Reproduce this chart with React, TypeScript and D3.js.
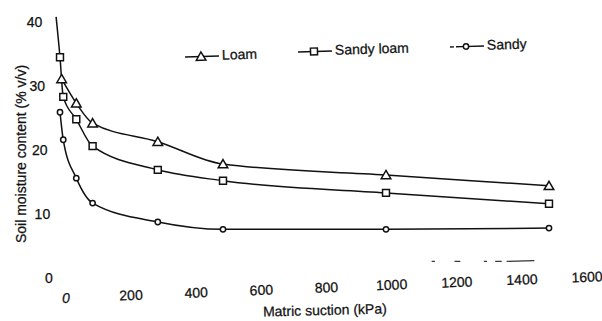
import React from 'react';
import * as d3 from 'd3';

// suction (kPa), moisture (% v/v)
const loam: [number, number][] = [
  [5, 31.1], [50, 27.3], [100, 24.2], [300, 21.3], [500, 17.8], [1000, 16.1], [1500, 14.4],
];
const sandyLoam: [number, number][] = [
  [0, 34.5], [10, 28.3], [50, 24.8], [100, 20.6], [300, 16.9], [500, 15.2], [1000, 13.3], [1500, 11.6],
];
// line runs above the first square without a marker
const sandyLoamTop: [number, number] = [-12, 40.8];
const sandy: [number, number][] = [
  [0, 25.9], [10, 21.6], [50, 15.6], [100, 11.7], [300, 8.75], [500, 7.6], [1000, 7.6], [1500, 7.8],
];

const yTicks = [0, 10, 20, 30, 40];
const xTicks = [0, 200, 400, 600, 800, 1000, 1200, 1400, 1600];
const legendNames = ['Loam', 'Sandy loam', 'Sandy'];
// faint scanned remains of the x axis, in kPa
const axisBits: [number, number][] = [[1140, 1150], [1210, 1228], [1300, 1310], [1335, 1355], [1370, 1455]];

const W = 602;
const H = 321;
const FONT = '"Liberation Sans", Arial, sans-serif';

const x = d3.scaleLinear().domain([0, 1500]).range([60, 549]);
const y = d3.scaleLinear().domain([0, 40]).range([278, 22]);

const line = d3.line<[number, number]>()
  .x(d => x(d[0]))
  .y(d => y(d[1]))
  .curve(d3.curveMonotoneX);

const tri = d3.symbol().type(d3.symbolTriangle).size(40)() as string;
const sq = d3.symbol().type(d3.symbolSquare).size(48)() as string;
const dia = d3.symbol().type(d3.symbolCircle).size(22)() as string;
const shapes = [tri, sq, dia];

function Marker({ cx, cy, kind }: { cx: number; cy: number; kind: number }) {
  return (
    <path
      d={shapes[kind]}
      transform={`translate(${cx},${cy + (kind === 0 ? 1 : 0)})`}
      fill="#fff"
      stroke="#111"
      strokeWidth={1.5}
    />
  );
}

const txt = { fontSize: 14, fill: '#111', stroke: '#111', strokeWidth: 0.25 };

export default function App() {
  const series = [loam, sandyLoam, sandy];
  const legendPos = [
    { x: 185, y: 57 },
    { x: 298, y: 52 },
    { x: 450, y: 47 },
  ];
  return (
    <svg width={W} height={H} style={{ position: 'absolute', left: 0, top: 0, background: '#fff' }}
      fontFamily={FONT}>
      <rect width={W} height={H} fill="#fff" />

      {/* curves */}
      {series.map((s, i) => (
        <path key={i}
          d={line(i === 1 ? [sandyLoamTop, ...s] : s) as string}
          fill="none" stroke="#111" strokeWidth={1.5} />
      ))}
      {series.map((s, i) =>
        s.map((d, j) => <Marker key={`${i}-${j}`} cx={x(d[0])} cy={y(d[1])} kind={i} />)
      )}

      {/* y tick labels */}
      {yTicks.map((t, i) => (
        <text key={t} x={45 - i * 2.6 + (t === 0 ? 4 : 0)} y={y(t) + 5} textAnchor="middle" {...txt}>{t}</text>
      ))}

      {/* x tick labels, slightly tilted as in the scan */}
      <g transform={`rotate(-2.3, ${x(0)}, 300)`}>
        {xTicks.map(t => (
          <text key={t} x={x(t) + 6} y={303} textAnchor="middle" {...txt}
            fontStyle={t === 0 ? 'italic' : 'normal'}>{t}</text>
        ))}
      </g>

      {/* axis remains */}
      {axisBits.map((b, i) => (
        <line key={i} x1={x(b[0])} x2={x(b[1])} y1={y(2.6)} y2={y(2.6) - (i === 4 ? 0.8 : 0)}
          stroke="#333" strokeWidth={1.2} />
      ))}

      {/* titles */}
      <text transform="translate(26,154) rotate(-90)" textAnchor="middle" {...txt}>
        Soil moisture content (% v/v)
      </text>
      <text transform="translate(325,315) rotate(-1.5)" textAnchor="middle" {...txt}>
        Matric suction (kPa)
      </text>

      {/* legend */}
      {legendNames.map((name, i) => {
        const p = legendPos[i];
        return (
          <g key={name} transform={`translate(${p.x},${p.y}) rotate(-1.8)`}>
            <line x1={0} x2={34} y1={0} y2={0} stroke="#111" strokeWidth={1.4}
              strokeDasharray={i === 2 ? '4,2,6,0,22' : undefined} />
            <Marker cx={16} cy={0} kind={i} />
            <text x={37} y={4} {...txt}>{name}</text>
          </g>
        );
      })}
    </svg>
  );
}
